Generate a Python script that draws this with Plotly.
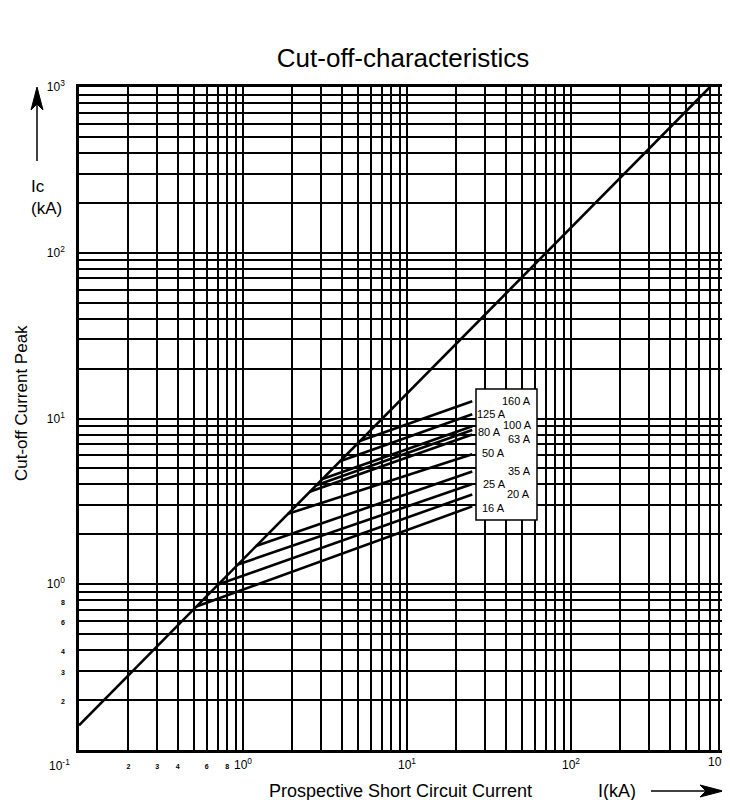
import plotly.graph_objects as go

# ---------------- data ----------------
# main line: prospective peak (no current limiting)
diag_I = [0.1, 704]
diag_Ic = [0.141, 1000]

fuse_labels = ["16 A", "20 A", "25 A", "35 A", "50 A", "63 A", "80 A", "100 A", "125 A", "160 A"]
start_I = [0.52, 0.705, 0.93, 1.2, 1.88, 2.55, 2.8, 3.05, 3.9, 5.2]
start_Ic = [0.735, 0.997, 1.315, 1.70, 2.66, 3.61, 3.96, 4.31, 5.52, 7.35]
end_I = [25, 25, 25, 25, 25, 25, 25, 25, 25, 25]
end_Ic = [2.95, 3.48, 4.02, 4.79, 6.09, 8.01, 8.53, 8.99, 10.6, 12.7]

major_vals = [1, 10, 100, 1000]
major_text = ["10<sup>0</sup>", "10<sup>1</sup>", "10<sup>2</sup>", "10<sup>3</sup>"]
small_vals = [0.2, 0.3, 0.4, 0.6, 0.8]
small_text = ["2", "3", "4", "6", "8"]

FONT = "Liberation Sans, Arial, Helvetica, sans-serif"

# ---------------- layout helpers ----------------
L, R, T, B = 71, 3, 79, 58
W, H = 730 - L - R, 800 - T - B


def px(xp):
    return (xp - L) / W


def py(yp):
    return (800 - B - yp) / H


grid_vals = [m * 10 ** d for d in (-1, 0, 1, 2) for m in range(1, 10)] + [1000]


def tick_text(vals, skip=()):
    out = []
    for v in vals:
        t = ""
        for mv, mt in zip(major_vals, major_text):
            if abs(v - mv) < 1e-9 * max(1, mv) and mv not in skip:
                t = mt
        for sv, st in zip(small_vals, small_text):
            if abs(v - sv) < 1e-9:
                t = "<span style='font-size:7px;font-weight:bold;fill:black'>" + st + "</span>"
        out.append(t)
    return out


def text_at(xp, yp, text, size, **kw):
    fig.add_annotation(x=px(xp), y=py(yp), xref="paper", yref="paper",
                       text=text, showarrow=False,
                       xanchor=kw.pop("xanchor", "center"), yanchor="middle",
                       font=dict(family=FONT, size=size, color="black"), **kw)


fig = go.Figure()

fig.add_trace(go.Scatter(x=diag_I, y=diag_Ic, mode="lines",
                         line=dict(color="black", width=2.6), showlegend=False,
                         hoverinfo="skip"))
for lab, x0, y0, x1, y1 in zip(fuse_labels, start_I, start_Ic, end_I, end_Ic):
    fig.add_trace(go.Scatter(x=[x0, x1], y=[y0, y1], mode="lines", name=lab,
                             line=dict(color="black", width=2.6), showlegend=False))

# label box
fig.add_shape(type="rect", xref="paper", yref="paper",
              x0=px(468), x1=px(529), y0=py(512), y1=py(381),
              fillcolor="white", line=dict(color="black", width=1.5), layer="above")

# fuse labels (pixel positions of their centres)
label_pos = [(485, 500), (510, 486), (486.5, 476), (511, 463), (485, 445),
             (511, 431), (482, 424), (509, 417), (483.5, 406), (508, 393)]
for lab, (lx, ly) in zip(fuse_labels, label_pos):
    text_at(lx, ly, lab, 11)

axis_common = dict(type="log", range=[-1, 3], tickmode="array", tickvals=grid_vals,
                   showgrid=True, gridcolor="black", gridwidth=1.5,
                   showline=True, linecolor="black", linewidth=2.5, mirror=True,
                   ticks="", zeroline=False,
                   tickfont=dict(family=FONT, size=12, color="black"))

fig.update_xaxes(**axis_common, ticktext=tick_text(grid_vals, skip=(1000,)),
                 ticklabelstandoff=2)
fig.update_yaxes(**axis_common, ticktext=tick_text(grid_vals), ticklabelstandoff=9)

# corner labels
text_at(51, 757, "10<sup>-1</sup>", 12)
text_at(709, 753, major_text[-1], 12)

# axis titles
text_at(392, 783, "Prospective Short Circuit Current", 18)
text_at(609, 783, "I(kA)", 18)
text_at(13, 395, "Cut-off Current Peak", 17, textangle=-90)
text_at(21, 178, "Ic", 17, xanchor="left")
text_at(21, 200, "(kA)", 17, xanchor="left")

# arrows drawn as paper-space shapes
fig.add_shape(type="line", xref="paper", yref="paper",
              x0=px(643), x1=px(698), y0=py(783), y1=py(783),
              line=dict(color="black", width=1.5))
fig.add_shape(type="path", xref="paper", yref="paper",
              path=f"M {px(715)} {py(783)} L {px(692)} {py(777)} L {px(698)} {py(783)} "
                   f"L {px(692)} {py(789)} Z",
              fillcolor="black", line=dict(color="black", width=1))
fig.add_shape(type="line", xref="paper", yref="paper",
              x0=px(29), x1=px(29), y0=py(96), y1=py(153),
              line=dict(color="black", width=1.5))
fig.add_shape(type="path", xref="paper", yref="paper",
              path=f"M {px(29)} {py(79)} L {px(23)} {py(102)} L {px(29)} {py(96)} "
                   f"L {px(35)} {py(102)} Z",
              fillcolor="black", line=dict(color="black", width=1))

fig.update_layout(
    template="none",
    width=730, height=800,
    margin=dict(l=L, r=R, t=T, b=B),
    paper_bgcolor="white", plot_bgcolor="white",
    title=dict(text="Cut-off-characteristics", x=395 / 730, xanchor="center",
               y=1 - 50 / 800, yanchor="middle",
               font=dict(family=FONT, size=26, color="black")),
    showlegend=False,
)

fig.write_html("out.html")
